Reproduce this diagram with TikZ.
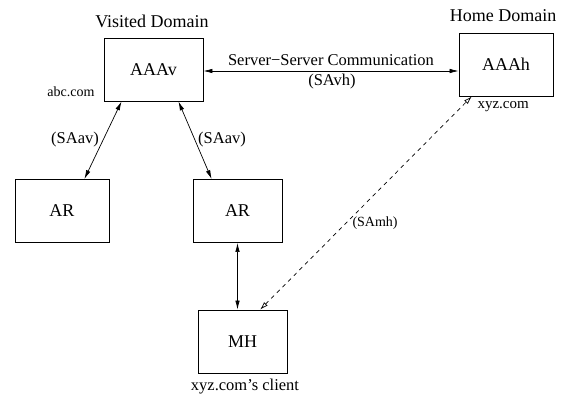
\documentclass[tikz,border=0pt]{standalone}
\usepackage{fontspec}
\setmainfont{Liberation Serif}
\usepackage{tikz}
\usetikzlibrary{arrows.meta}

\tikzset{
	caixa/.style={draw, line width=0.9pt, minimum width=94pt, minimum height=63pt, inner sep=0pt, font=\fontsize{18}{20}\selectfont},
	titulo/.style={font=\fontsize{18}{20}\selectfont, anchor=base},
	rotulo/.style={font=\fontsize{16.5}{18}\selectfont},
	pequeno/.style={font=\fontsize{14}{16}\selectfont},
	seta/.style={line width=0.7pt, {Latex[length=9pt,width=4.5pt]}-{Latex[length=9pt,width=4.5pt]}},
	tracejada/.style={line width=0.7pt, dash pattern=on 4pt off 4pt, {Latex[open,length=8pt,width=5pt]}-{Latex[open,length=8pt,width=5pt]}}
}

\begin{document}
\begin{tikzpicture}[x=1pt, y=-1pt]
		\useasboundingbox (0,0) rectangle (562,396);
		\draw
		node[caixa, minimum width=99pt] at (153.5,69.5) (aaav) {AAAv}
		node[caixa] at (506,64.5) (aaah) {AAAh}
		node[caixa] at (62,211) (arl) {AR}
		node[caixa, minimum width=89pt] at (237.5,211) (arr) {AR}
		node[caixa, minimum width=89pt] at (242.5,341.5) (mh) {MH}
		node[titulo] at (152,28) (vis) {Visited Domain}
		node[titulo] at (503,22) (home) {Home Domain}
		node[pequeno] at (71,92) (abc) {abc.com}
		node[pequeno, font=\fontsize{15}{17}\selectfont, anchor=west] at (474,107) (xyz) {xyz.com}
		node[titulo, font=\fontsize{16.5}{18}\selectfont] at (245,390) (cli) {xyz.com’s client}
		node[rotulo] at (331,60) (ssc) {Server−Server Communication}
		node[rotulo] at (332,82) (savh) {(SAvh)}
		node[rotulo] at (75,140) (sav1) {(SAav)}
		node[rotulo] at (222,140) (sav2) {(SAav)}
		node[pequeno, anchor=west] at (349,223) (samh) {(SAmh)};
		\draw[seta] ([yshift=-1.5pt]aaav.east) -- ([yshift=-1.5pt]aaav.east -| aaah.west);
		\draw[seta] (aaav.-135) -- (arl.55);
		\draw[seta] (aaav.-52) -- (arr.129);
		\draw[seta] (arr.south) -- (arr.south |- mh.north);
		\draw[tracejada] (mh.61) -- (aaah.-137);
	\end{tikzpicture}
\end{document}
